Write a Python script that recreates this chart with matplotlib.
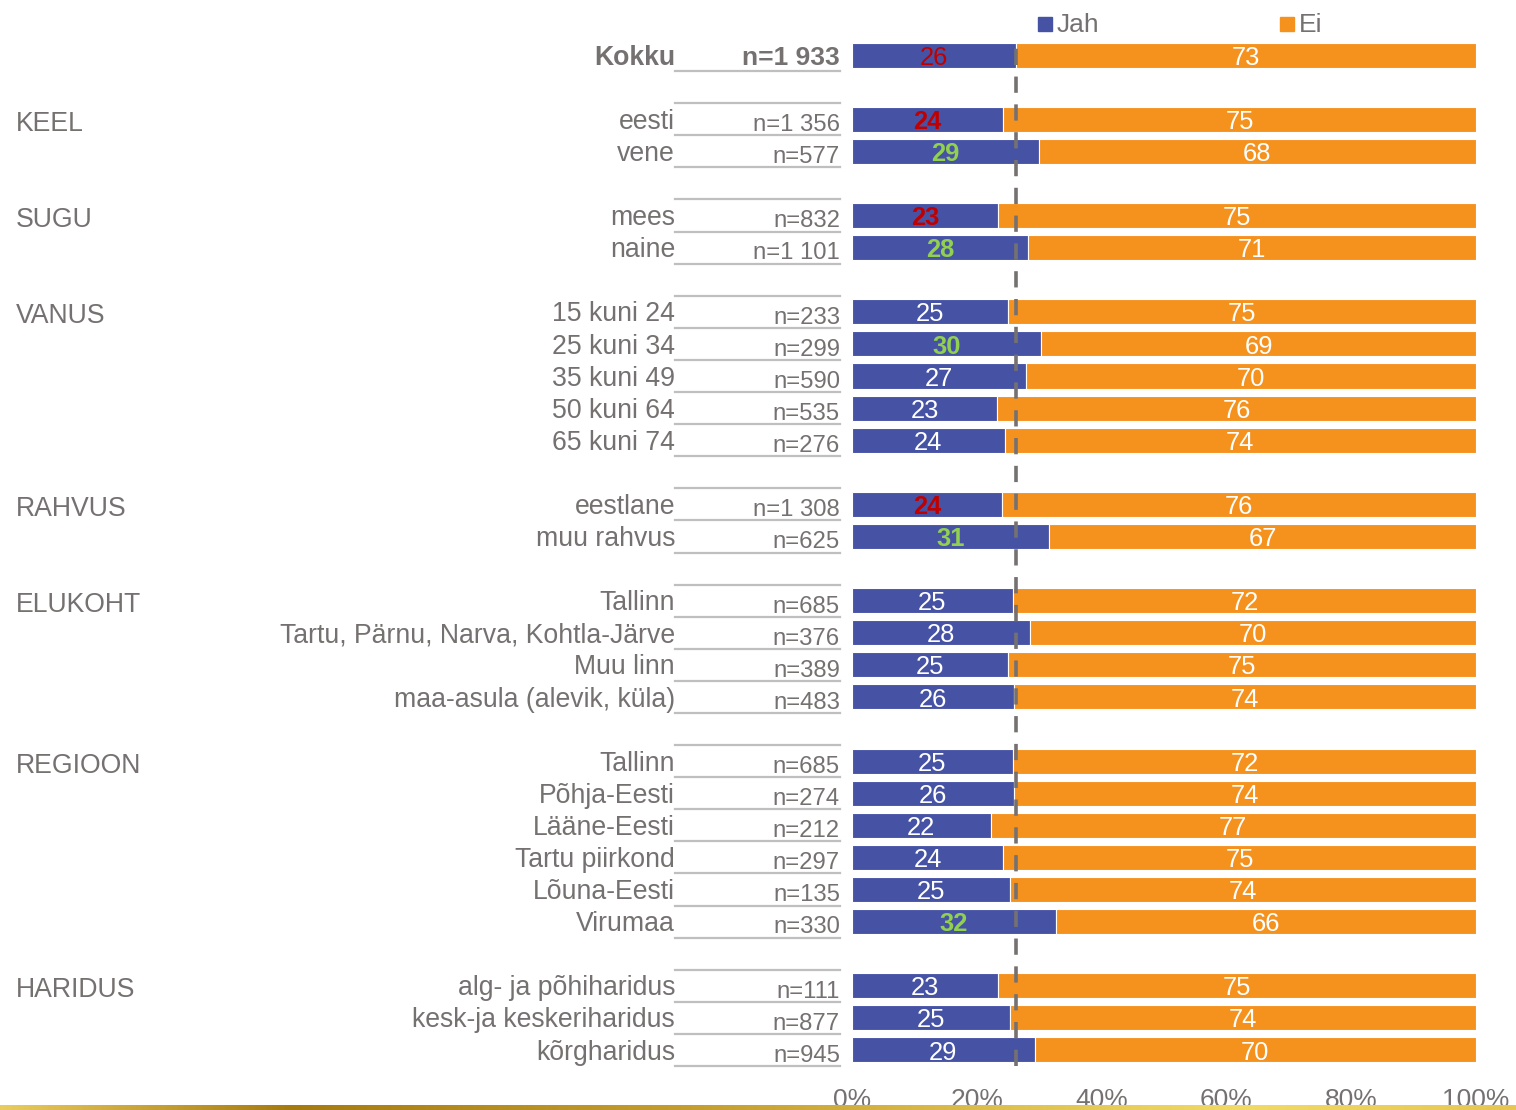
import numpy as np
import matplotlib
matplotlib.use("Agg")
import matplotlib.pyplot as plt
from matplotlib.transforms import blended_transform_factory
from matplotlib.lines import Line2D
from matplotlib.patches import Rectangle
from matplotlib.colors import LinearSegmentedColormap

plt.rcParams["font.family"] = ["Liberation Sans", "DejaVu Sans"]

# ---- data -------------------------------------------------------------
groups = ["", "KEEL", "SUGU", "VANUS", "RAHVUS", "ELUKOHT", "REGIOON", "HARIDUS"]

group_members = [
    ["Kokku"],
    ["eesti", "vene"],
    ["mees", "naine"],
    ["15 kuni 24", "25 kuni 34", "35 kuni 49", "50 kuni 64", "65 kuni 74"],
    ["eestlane", "muu rahvus"],
    ["Tallinn", "Tartu, Pärnu, Narva, Kohtla-Järve", "Muu linn", "maa-asula (alevik, küla)"],
    ["Tallinn", "Põhja-Eesti", "Lääne-Eesti", "Tartu piirkond", "Lõuna-Eesti", "Virumaa"],
    ["alg- ja põhiharidus", "kesk-ja keskeriharidus", "kõrgharidus"],
]

sample_sizes = [
    "n=1 933",
    "n=1 356", "n=577",
    "n=832", "n=1 101",
    "n=233", "n=299", "n=590", "n=535", "n=276",
    "n=1 308", "n=625",
    "n=685", "n=376", "n=389", "n=483",
    "n=685", "n=274", "n=212", "n=297", "n=135", "n=330",
    "n=111", "n=877", "n=945",
]

jah = [26,
       24, 29,
       23, 28,
       25, 30, 27, 23, 24,
       24, 31,
       25, 28, 25, 26,
       25, 26, 22, 24, 25, 32,
       23, 25, 29]

ei = [73,
      75, 68,
      75, 71,
      75, 69, 70, 76, 74,
      76, 67,
      72, 70, 75, 74,
      72, 74, 77, 75, 74, 66,
      75, 74, 70]

# significance flag of the "Jah" share versus total: total / low / high / ""
jah_flag = ["total",
            "low", "high",
            "low", "high",
            "", "high", "", "", "",
            "low", "high",
            "", "", "", "",
            "", "", "", "", "", "high",
            "", "", ""]

# ---- styling ----------------------------------------------------------
BLUE = "#4653A5"
ORANGE = "#F5921E"
GREY = "#767171"
RULE = "#BFBFBF"
RED = "#C00000"
GREEN = "#92D050"

W, H = 1516, 1110
fig = plt.figure(figsize=(W / 100, H / 100), dpi=100)

x0, x1 = 852, 1476
y_top, y_bot = 39, 1066
ax = fig.add_axes([x0 / W, (H - y_bot) / H, (x1 - x0) / W, (y_bot - y_top) / H])

# row positions: one empty row between groups
rows, labels, grp_rows = [], [], []
pos = 0
for g, members in zip(groups, group_members):
    grp_rows.append(pos)
    for m in members:
        rows.append(pos)
        labels.append(m)
        pos += 1
    pos += 1
last_row = rows[-1]

jah_a = np.array(jah, float)
ei_a = np.array(ei, float)
tot = jah_a + ei_a
jah_pct = jah_a / tot * 100
ei_pct = ei_a / tot * 100

bar_h = 0.78
ax.barh(rows, jah_pct, height=bar_h, color=BLUE, edgecolor="white", linewidth=0.8, zorder=2)
ax.barh(rows, ei_pct, left=jah_pct, height=bar_h, color=ORANGE, edgecolor="white",
        linewidth=0.8, zorder=2)

BASE = 0.30  # baseline offset of text inside a row (in row units)

# value labels
for r, v, p, flag in zip(rows, jah, jah_pct, jah_flag):
    kw = dict(color="white", fontweight="normal")
    if flag == "total":
        kw = dict(color=RED, fontweight="normal")
    elif flag == "low":
        kw = dict(color=RED, fontweight="bold")
    elif flag == "high":
        kw = dict(color=GREEN, fontweight="bold")
    ax.text(p / 2, r + BASE, str(v), ha="center", va="baseline", fontsize=18.4,
            zorder=4, **kw)
for r, v, p, q in zip(rows, ei, jah_pct, ei_pct):
    ax.text(p + q / 2, r + BASE, str(v), ha="center", va="baseline", fontsize=18.4,
            color="white", zorder=4)

# reference line at the total "Jah" share
ax.axvline(jah_pct[0], color=GREY, linewidth=2.6, linestyle=(0, (4.5, 3.2)), zorder=3)

ax.set_xlim(0, 100)
ax.set_ylim(last_row + 0.5, -0.5)
ax.set_xticks(np.arange(0, 101, 20))
ax.set_xticklabels([f"{t}%" for t in range(0, 101, 20)])
ax.tick_params(axis="x", length=0, pad=15.5, labelsize=19, labelcolor=GREY)
ax.set_yticks([])
for s in ax.spines.values():
    s.set_visible(False)

# left-hand label columns
tr = blended_transform_factory(fig.transFigure, ax.transData)
lab_x = 675 / W
n_x = 840 / W
for i, (r, lab, n) in enumerate(zip(rows, labels, sample_sizes)):
    bold = i == 0
    fig.text(lab_x, r + BASE, lab, transform=tr, ha="right", va="baseline",
             fontsize=19.2, color=GREY, fontweight="bold" if bold else "normal")
    fig.text(n_x, r + (BASE if bold else 0.37), n, transform=tr, ha="right",
             va="baseline", fontsize=19 if bold else 17.2, color=GREY,
             fontweight="bold" if bold else "normal")
    fig.add_artist(Line2D([lab_x, n_x], [r + 0.5, r + 0.5], transform=tr,
                          color=RULE, linewidth=1.6))

for g, gr in zip(groups, grp_rows):
    if not g:
        continue
    fig.text(16 / W, gr + 0.36, g, transform=tr, ha="left", va="baseline",
             fontsize=19.2, color=GREY)
    fig.add_artist(Line2D([lab_x, n_x], [gr - 0.5, gr - 0.5], transform=tr,
                          color=RULE, linewidth=1.6))

# legend
for name, col, lx in [("Jah", BLUE, 1038), ("Ei", ORANGE, 1280)]:
    fig.add_artist(Rectangle((lx / W, (H - 31) / H), 14 / W, 14 / H,
                             transform=fig.transFigure, color=col))
    fig.text((lx + 19) / W, (H - 31.5) / H, name, ha="left", va="baseline",
             fontsize=19, color=GREY)

# decorative gold stripe along the bottom edge
stripe = fig.add_axes([0, 0, 1, 5 / H], zorder=10)
gold = LinearSegmentedColormap.from_list(
    "gold", [(0, "#E9CB5E"), (0.19, "#A57B10"), (0.5, "#C9A535"),
             (0.82, "#F2DA66"), (1.0, "#E6C651")])
stripe.imshow(np.linspace(0, 1, 512)[None, :], aspect="auto", cmap=gold,
              extent=(0, 1, 0, 1))
stripe.axis("off")

fig.savefig("out.png", dpi=100)
